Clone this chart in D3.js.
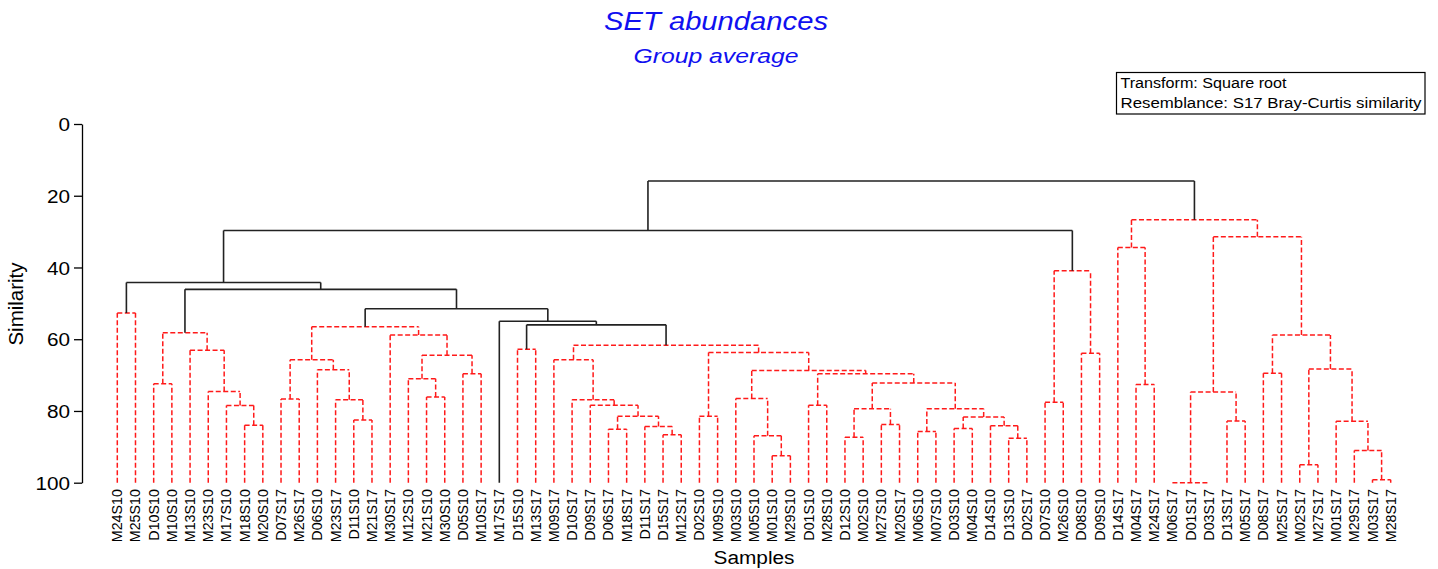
<!DOCTYPE html>
<html><head><meta charset="utf-8">
<script src="https://cdn.jsdelivr.net/npm/d3@7"></script>
<style>body{margin:0;background:#fff}svg{display:block}</style>
</head><body>
<svg id="chart" width="1438" height="569"></svg>
<script>
const samples = ["M24S10","M25S10","D10S10","M10S10","M13S10","M23S10","M17S10","M18S10","M20S10",
  "D07S17","M26S17","D06S10","M23S17","D11S10","M21S17","M30S17","M12S10","M21S10","M30S10","D05S10","M10S17",
  "M17S17","D15S10","M13S17","M09S17","D10S17","D09S17","D06S17","M18S17","D11S17","D15S17","M12S17",
  "D02S10","M09S10","M03S10","M05S10","M01S10","M29S10","D01S10","M28S10","D12S10","M02S10","M27S10","M20S17",
  "M06S10","M07S10","D03S10","M04S10","D14S10","D13S10","D02S17","D07S10","M26S10","D08S10","D09S10",
  "D14S17","M04S17","M24S17","M06S17","D01S17","D03S17","D13S17","M05S17","D08S17","M25S17","M02S17","M27S17",
  "M01S17","M29S17","M03S17","M28S17"];

// [node id, members, similarity (%) at which they join]
const merges = [
  ["a1", ["M24S10","M25S10"], 52.7],
  ["b1", ["D10S10","M10S10"], 72.4],
  ["b2", ["M18S10","M20S10"], 84.0],
  ["b3", ["M17S10","b2"], 78.5],
  ["b4", ["M23S10","b3"], 74.6],
  ["b5", ["M13S10","b4"], 63.1],
  ["b6", ["b1","b5"], 58.2],
  ["c1", ["D07S17","M26S17"], 76.7],
  ["c2", ["D11S10","M21S17"], 82.5],
  ["c3", ["M23S17","c2"], 76.9],
  ["c4", ["D06S10","c3"], 68.5],
  ["c5", ["c1","c4"], 65.7],
  ["c6", ["M21S10","M30S10"], 76.1],
  ["c7", ["M12S10","c6"], 71.0],
  ["c8", ["D05S10","M10S17"], 69.6],
  ["c9", ["c7","c8"], 64.5],
  ["c10", ["M30S17","c9"], 58.8],
  ["c11", ["c5","c10"], 56.5],
  ["f1", ["D15S10","M13S17"], 62.8],
  ["g1", ["D15S17","M12S17"], 86.6],
  ["g2", ["D11S17","g1"], 84.3],
  ["g3", ["D06S17","M18S17"], 85.1],
  ["g4", ["g3","g2"], 81.5],
  ["g5", ["D09S17","g4"], 78.4],
  ["g6", ["D10S17","g5"], 76.9],
  ["g7", ["M09S17","g6"], 65.7],
  ["h1", ["D02S10","M09S10"], 81.5],
  ["h2", ["M01S10","M29S10"], 92.5],
  ["h3", ["M05S10","h2"], 86.9],
  ["h4", ["M03S10","h3"], 76.5],
  ["h5", ["D01S10","M28S10"], 78.4],
  ["h6", ["D12S10","M02S10"], 87.3],
  ["h7", ["M27S10","M20S17"], 83.8],
  ["h8", ["h6","h7"], 79.4],
  ["h9", ["M06S10","M07S10"], 85.7],
  ["h10", ["D13S10","D02S17"], 87.6],
  ["h11", ["D14S10","h10"], 84.1],
  ["h12", ["D03S10","M04S10"], 84.9],
  ["h13", ["h12","h11"], 81.7],
  ["h14", ["h9","h13"], 79.4],
  ["h15", ["h8","h14"], 72.2],
  ["h16", ["h5","h15"], 69.6],
  ["h17", ["h4","h16"], 68.7],
  ["h18", ["h1","h17"], 63.7],
  ["g8", ["g7","h18"], 61.7],
  ["k5", ["f1","g8"], 56.0],
  ["k4", ["M17S17","k5"], 55.0],
  ["k3", ["c11","k4"], 51.5],
  ["k2", ["b6","k3"], 46.1],
  ["k1", ["a1","k2"], 44.2],
  ["d1", ["D07S10","M26S10"], 77.6],
  ["d2", ["D08S10","D09S10"], 63.9],
  ["d3", ["d1","d2"], 40.9],
  ["L", ["k1","d3"], 29.7],
  ["r1", ["M04S17","M24S17"], 72.6],
  ["r2", ["D14S17","r1"], 34.4],
  ["r3", ["M06S17","D01S17","D03S17"], 100],
  ["r4", ["D13S17","M05S17"], 82.8],
  ["r5", ["r3","r4"], 74.7],
  ["r6", ["D08S17","M25S17"], 69.5],
  ["r7", ["M02S17","M27S17"], 95.0],
  ["r8", ["M03S17","M28S17"], 99.2],
  ["r9", ["M29S17","r8"], 91.0],
  ["r10", ["M01S17","r9"], 82.9],
  ["r11", ["r7","r10"], 68.3],
  ["r12", ["r6","r11"], 58.8],
  ["r13", ["r5","r12"], 31.4],
  ["r14", ["r2","r13"], 26.7],
  ["root", ["L","r14"], 15.9]
];
// groups that differ significantly (drawn solid black); others are red dashed
const significantNodes = ["root","L","k1","k2","k3","k4","k5"];
const yTicks = [0,20,40,60,80,100];
const titleText = "SET abundances";
const subtitleText = "Group average";
const infoLines = ["Transform: Square root","Resemblance: S17 Bray-Curtis similarity"];
const xTitle = "Samples", yTitle = "Similarity";

const svg = d3.select("#chart");
const FONT = "Arial, 'Liberation Sans', sans-serif";

const byId = new Map(merges.map(m => [m[0], m]));
function build(name){
  const m = byId.get(name);
  if (!m) return {name, sim: 100};
  return {name, sim: m[2], children: m[1].map(build)};
}
const root = d3.hierarchy(build("root"));
const x = d3.scalePoint().domain(samples).range([117.3, 1390.7]);
const y = d3.scaleLinear().domain([0, 100]).range([124, 482.7]);
const sig = new Set(significantNodes);

root.eachAfter(n => {
  if (!n.children) n.x = x(n.data.name);
  else {
    const xs = n.children.map(c => c.x);
    n.x = (d3.min(xs) + d3.max(xs)) / 2;
  }
});

const internals = root.descendants().filter(n => n.children);
const linkPath = n => {
  const ny = y(n.data.sim);
  let d = "";
  n.children.forEach(c => { d += `M${c.x},${y(c.data.sim)}V${ny}`; });
  const xs = n.children.map(c => c.x);
  d += `M${d3.min(xs)},${ny}H${d3.max(xs)}`;
  return d;
};

// red dashed first, black on top
svg.append("g").selectAll("path")
  .data(internals.sort((a,b) => (sig.has(a.data.name)?1:0) - (sig.has(b.data.name)?1:0)))
  .join("path")
  .attr("d", linkPath)
  .attr("fill", "none")
  .attr("stroke", d => sig.has(d.data.name) ? "#222" : "#ff1a1a")
  .attr("stroke-width", d => sig.has(d.data.name) ? 1.6 : 1.5)
  .attr("stroke-dasharray", d => sig.has(d.data.name) ? null : "5,2.5");

// y axis
const yAxis = svg.append("g").attr("transform", "translate(82,0)")
  .call(d3.axisLeft(y).tickValues(yTicks).tickSize(8).tickSizeOuter(0).tickPadding(4));
yAxis.select(".domain").attr("stroke", "#000").attr("stroke-width", 1.3);
yAxis.selectAll(".tick line").attr("stroke", "#000").attr("stroke-width", 1.3);
yAxis.selectAll(".tick text")
  .attr("font-family", FONT).attr("font-size", 18.5).attr("fill", "#000")
  .attr("x", 0).attr("dy", null).attr("dominant-baseline", "central")
  .attr("transform", "translate(-12,0) scale(1.12,1)");

// leaf labels
svg.append("g").selectAll("text").data(root.leaves()).join("text")
  .attr("transform", d => `translate(${d.x},489) rotate(-90)`)
  .attr("text-anchor", "end").attr("dominant-baseline", "central")
  .attr("font-family", FONT).attr("font-size", 14.3).attr("fill", "#000")
  .text(d => d.data.name);

// axis titles
svg.append("text").attr("x", 754).attr("y", 563.5).attr("text-anchor", "middle")
  .attr("font-family", FONT).attr("font-size", 18).attr("fill", "#000")
  .attr("textLength", 81).attr("lengthAdjust", "spacingAndGlyphs").text(xTitle);
svg.append("text").attr("transform", "translate(23,304) rotate(-90)").attr("text-anchor", "middle")
  .attr("font-family", FONT).attr("font-size", 20.5).attr("fill", "#000").text(yTitle);

// titles
svg.append("text").attr("x", 716).attr("y", 30).attr("text-anchor", "middle")
  .attr("font-family", FONT).attr("font-style", "italic").attr("font-size", 25.5).attr("fill", "#1010f0")
  .attr("textLength", 224).attr("lengthAdjust", "spacingAndGlyphs").text(titleText);
svg.append("text").attr("x", 716).attr("y", 63).attr("text-anchor", "middle")
  .attr("font-family", FONT).attr("font-style", "italic").attr("font-size", 19.5).attr("fill", "#1010f0")
  .attr("textLength", 165).attr("lengthAdjust", "spacingAndGlyphs").text(subtitleText);

// info box
svg.append("rect").attr("x", 1116.5).attr("y", 72.5).attr("width", 308.5).attr("height", 41.5)
  .attr("fill", "none").attr("stroke", "#000").attr("stroke-width", 1.2);
const infoLen = [166, 301];
svg.append("g").selectAll("text").data(infoLines).join("text")
  .attr("x", 1120.5).attr("y", (d,i) => 87.5 + i*20.3)
  .attr("font-family", FONT).attr("font-size", 14).attr("fill", "#000")
  .attr("textLength", (d,i) => infoLen[i]).attr("lengthAdjust", "spacingAndGlyphs")
  .text(d => d);
</script>
</body></html>
